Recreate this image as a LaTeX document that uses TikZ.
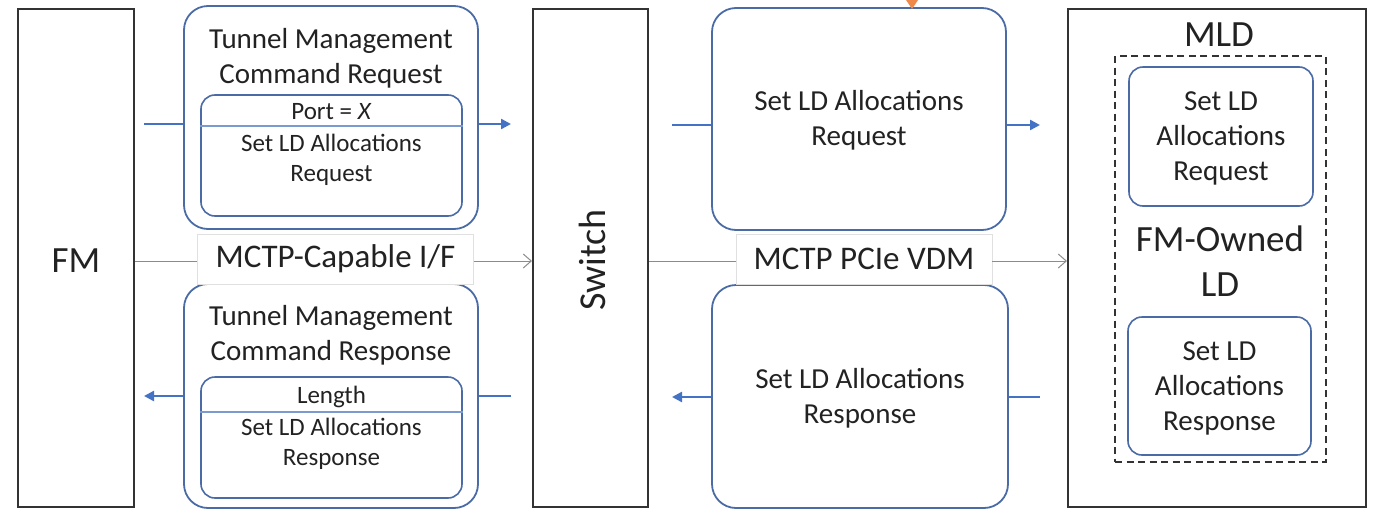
\documentclass[tikz,border=0pt]{standalone}
\usepackage{fontspec}
\setmainfont{Carlito}
\usetikzlibrary{arrows.meta}
\definecolor{boxblue}{HTML}{4A6BA6}
\definecolor{arrowblue}{HTML}{4472C4}
\definecolor{divblue}{HTML}{7A9AD0}
\definecolor{framegray}{HTML}{333333}
\definecolor{linkgray}{HTML}{8C8C8C}
\definecolor{tipcolor}{HTML}{F08A4B}
\definecolor{txt}{HTML}{222222}
\tikzset{
  unit/.style={draw=framegray, line width=2pt, fill=white, inner sep=0pt},
  msgbox/.style={draw=boxblue, line width=1.8pt, rounded corners=24pt, inner sep=0pt},
  fieldbox/.style={draw=boxblue, line width=1.6pt, rounded corners=14pt, inner sep=0pt},
  divider/.style={draw=divblue, line width=1.2pt},
  iflabel/.style={fill=white, draw=black!12, line width=0.6pt, inner sep=0pt,
    font=\fontsize{33}{38}\selectfont, text=txt},
  link/.style={draw=linkgray, line width=1pt, -{Straight Barb[length=8pt,width=14pt,line width=1pt]}},
  linkplain/.style={draw=linkgray, line width=1pt},
  bline/.style={draw=arrowblue, line width=2.4pt},
  barrow/.style={draw=arrowblue, line width=2.4pt, -{Triangle[length=10pt,width=10pt]}},
  big/.style={font=\fontsize{37}{45}\selectfont, text=txt, align=center},
  mid/.style={font=\fontsize{29}{35}\selectfont, text=txt, align=center},
  small/.style={font=\fontsize{25}{30}\selectfont, text=txt, align=center},
}
\begin{document}
\begin{tikzpicture}[x=1pt,y=-1pt]
\useasboundingbox (0,0) rectangle (1373,509);

% end points: fabric manager, switch, multi-logical device
\node[unit, minimum width=116pt, minimum height=498pt] (fm) at (76,258) {};
\node[big] (fmtxt) at (76,261) {FM};
\node[unit, minimum width=115pt, minimum height=498pt] (sw) at (590.5,258) {};
\node[big, rotate=90, font=\fontsize{38}{45}\selectfont] (swtxt) at (592,260) {Switch};
\node[unit, minimum width=298pt, minimum height=498pt] (mld) at (1217,258) {};
\node[big] (mldtxt) at (1219,35) {MLD};

% FM-owned logical device (dashed region)
\node[draw=framegray, line width=2pt, dash pattern=on 7pt off 4.5pt, inner sep=0pt,
      minimum width=211pt, minimum height=406pt] (ld) at (1220.5,259) {};
\node[big] (ldtxt) at (1220,261) {FM-Owned\\LD};
\node[fieldbox, minimum width=184pt, minimum height=139pt] (ldreq) at (1221,136.5) {};
\node[mid] at (1221,138) {Set LD\\Allocations\\Request};
\node[fieldbox, minimum width=183pt, minimum height=138pt] (ldrsp) at (1219.5,386) {};
\node[mid] at (1219.5,388) {Set LD\\Allocations\\Response};

% tunnel management command request (FM -> switch)
\node[msgbox, minimum width=294pt, minimum height=223pt] (tmreq) at (331,117.5) {};
\node[mid] at (331,58) {Tunnel Management\\Command Request};
\node[fieldbox, minimum width=261pt, minimum height=121pt] (reqfld) at (331.5,155.5) {};
\draw[divider] (reqfld.west |- 0,126) -- (reqfld.east |- 0,126);
\node[small] at (331.5,112) {Port = \textit{X}};
\node[small] at (331.5,160) {Set LD Allocations\\Request};

% tunnel management command response (switch -> FM)
\node[msgbox, minimum width=294pt, minimum height=224pt] (tmrsp) at (331,396) {};
\node[mid] at (331,335) {Tunnel Management\\Command Response};
\node[fieldbox, minimum width=261pt, minimum height=121pt] (rspfld) at (331.5,437.5) {};
\draw[divider] (rspfld.west |- 0,412) -- (rspfld.east |- 0,412);
\node[small] at (331.5,397) {Length};
\node[small] at (331.5,444) {Set LD Allocations\\Response};

% request / response forwarded over PCIe VDM
\node[msgbox, minimum width=294pt, minimum height=222pt] (vreq) at (859,119) {};
\node[mid] at (859,120.5) {Set LD Allocations\\Request};
\node[msgbox, minimum width=296pt, minimum height=223pt] (vrsp) at (860,396.5) {};
\node[mid] at (860,398.5) {Set LD Allocations\\Response};

% interface links
\node[iflabel, minimum width=276pt, minimum height=50pt] (if1) at (335.5,259) {MCTP-Capable I/F};
\node[iflabel, minimum width=256pt, minimum height=50pt] (if2) at (864,259) {MCTP PCIe VDM};
\coordinate (l1) at (0,261);
\draw[linkplain] (fm.east |- l1) -- (if1.west |- l1);
\draw[link] (if1.east |- l1) -- (sw.west |- l1);
\draw[linkplain] (sw.east |- l1) -- (if2.west |- l1);
\draw[link] (if2.east |- l1) -- (mld.west |- l1);

% message flow arrows
\coordinate (a1s) at (144,124);  \coordinate (a1e) at (511,124);
\draw[bline] (a1s) -- (tmreq.west |- a1s);
\draw[barrow] (tmreq.east |- a1s) -- (a1e);
\coordinate (a2s) at (672,125);  \coordinate (a2e) at (1040,125);
\draw[bline] (a2s) -- (vreq.west |- a2s);
\draw[barrow] (vreq.east |- a2s) -- (a2e);
\coordinate (a3s) at (1040,397); \coordinate (a3e) at (672,397);
\draw[bline] (a3s) -- (vrsp.east |- a3s);
\draw[barrow] (vrsp.west |- a3s) -- (a3e);
\coordinate (a4s) at (511,396);  \coordinate (a4e) at (144,396);
\draw[bline] (a4s) -- (tmrsp.east |- a4s);
\draw[barrow] (tmrsp.west |- a4s) -- (a4e);

% incoming tip at the top edge
\coordinate (tip) at (912,9);
\fill[tipcolor] (tip) -- ++(-6,-9) -- ++(12,0) -- cycle;
\end{tikzpicture}
\end{document}
